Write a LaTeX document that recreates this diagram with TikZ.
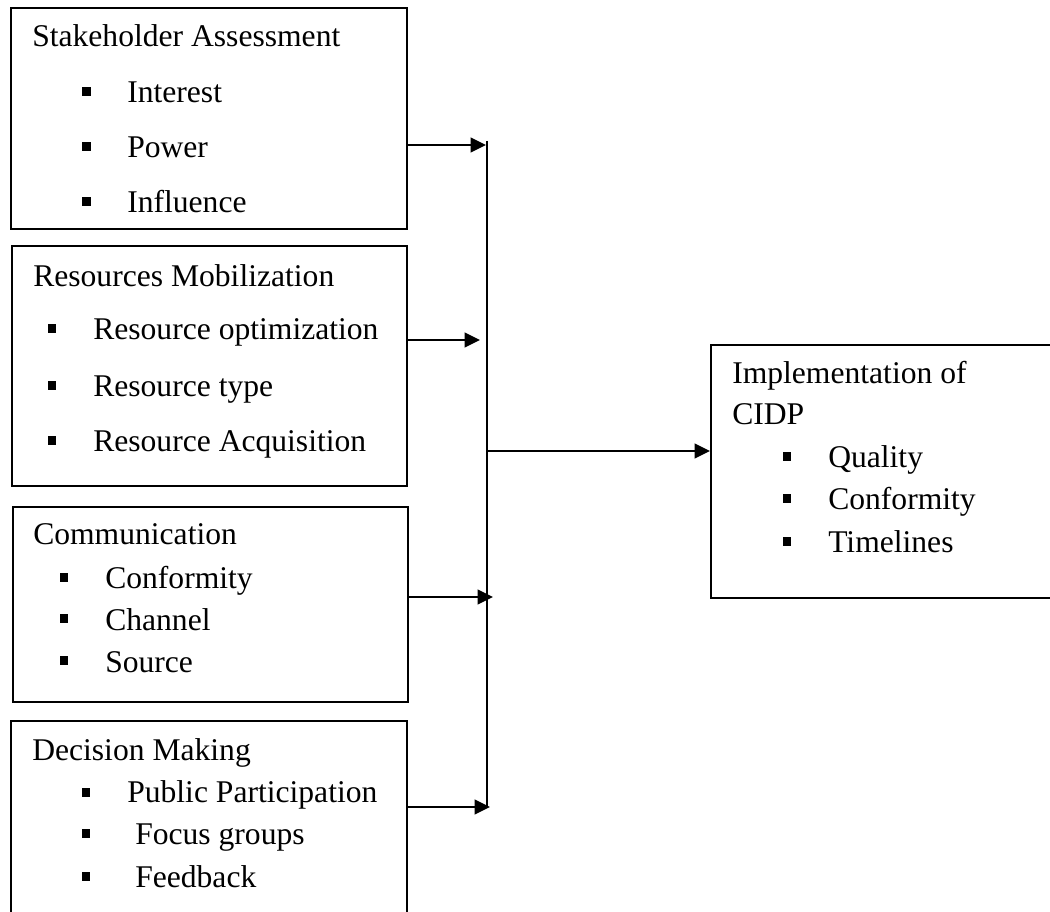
\documentclass[tikz,border=0pt]{standalone}
\usepackage{fontspec}
\setmainfont{Liberation Serif}
\usetikzlibrary{arrows.meta}
\begin{document}
\begin{tikzpicture}[x=0.75pt,y=-0.75pt,
  boxstyle/.style={draw, line width=1.5pt, inner sep=0pt, anchor=north west},
  txt/.style={anchor=base west, inner sep=0pt, font=\fontsize{23.7}{28}\selectfont},
  bul/.style={fill=black, inner sep=0pt, minimum size=6.6pt},
  arr/.style={line width=1.5pt, -{Triangle[length=11.5pt,width=11pt]}},
  bus/.style={line width=0.8pt}]
\useasboundingbox (0,0) rectangle (1050,912);

% boxes
\node[boxstyle, minimum width=297pt, minimum height=165.75pt] (box1) at (10,7) {};
\node[boxstyle, minimum width=296.25pt, minimum height=180pt] (box2) at (11,245) {};
\node[boxstyle, minimum width=296.25pt, minimum height=146.25pt] (box3) at (12,506) {};
\node[boxstyle, minimum width=297pt, minimum height=165pt] (box4) at (10,720) {};
\node[boxstyle, minimum width=270pt, minimum height=189.75pt] (box5) at (710,344) {};

% box 1
\node[txt] (t1) at (32,47) {Stakeholder Assessment};
\node[bul] (b1a) at (86.5,91.5) {};
\node[txt] (t1a) at (127,103) {Interest};
\node[bul] (b1b) at (86.5,146.5) {};
\node[txt] (t1b) at (127,158) {Power};
\node[bul] (b1c) at (86.5,201.5) {};
\node[txt] (t1c) at (127,213) {Influence};

% box 2
\node[txt] (t2) at (33,287) {Resources Mobilization};
\node[bul] (b2a) at (52,328.5) {};
\node[txt] (t2a) at (93,340) {Resource optimization};
\node[bul] (b2b) at (52,385.5) {};
\node[txt] (t2b) at (93,397) {Resource type};
\node[bul] (b2c) at (52,440.5) {};
\node[txt] (t2c) at (93,452) {Resource Acquisition};

% box 3
\node[txt] (t3) at (33,545) {Communication};
\node[bul] (b3a) at (64,577.5) {};
\node[txt] (t3a) at (105,589) {Conformity};
\node[bul] (b3b) at (64,618.5) {};
\node[txt] (t3b) at (105,630) {Channel};
\node[bul] (b3c) at (64,660.5) {};
\node[txt] (t3c) at (105,672) {Source};

% box 4
\node[txt] (t4) at (32,760) {Decision Making};
\node[bul] (b4a) at (86,792.5) {};
\node[txt] (t4a) at (127,802) {Public Participation};
\node[bul] (b4b) at (86,833.5) {};
\node[txt] (t4b) at (135,844) {Focus groups};
\node[bul] (b4c) at (86,876.5) {};
\node[txt] (t4c) at (135,887) {Feedback};

% box 5
\node[txt] (t5) at (732,384) {Implementation of};
\node[txt] (t5x) at (732,425) {CIDP};
\node[bul] (b5a) at (787,456.5) {};
\node[txt] (t5a) at (828,468) {Quality};
\node[bul] (b5b) at (787,498.5) {};
\node[txt] (t5b) at (828,510) {Conformity};
\node[bul] (b5c) at (787,541.5) {};
\node[txt] (t5c) at (828,553) {Timelines};

% bus line
\coordinate (bt) at (487,141);
\coordinate (bb) at (487,807);
\draw[bus] (bt) -- (bb);

% arrows into bus
\coordinate (e1) at (486,145);
\coordinate (e2) at (480,340);
\coordinate (e3) at (493,597);
\coordinate (e4) at (490,807);
\draw[arr] (box1.east |- e1) -- (e1);
\draw[arr] (box2.east |- e2) -- (e2);
\draw[arr] (box3.east |- e3) -- (e3);
\draw[arr] (box4.east |- e4) -- (e4);

% arrow to outcome
\coordinate (s5) at (488,451);
\draw[arr] (s5) -- (box5.west |- s5);
\end{tikzpicture}
\end{document}
